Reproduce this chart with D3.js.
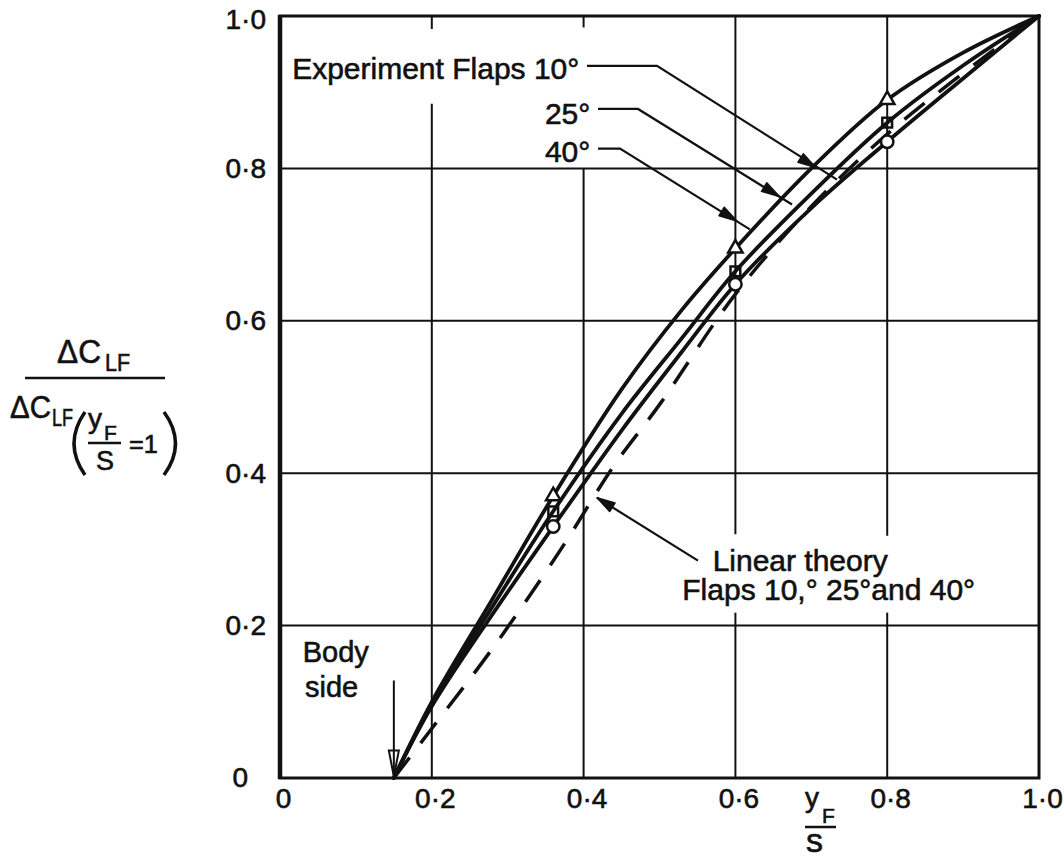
<!DOCTYPE html>
<html>
<head>
<meta charset="utf-8">
<script src="https://cdn.jsdelivr.net/npm/d3@7"></script>
<style>
  html, body { margin: 0; padding: 0; background: #fff; }
  svg { display: block; }
  text { font-family: "Liberation Sans", Arial, sans-serif; fill: #111; stroke: #111; stroke-width: 0.6px; }
</style>
</head>
<body>
<svg id="chart" width="1064" height="858"></svg>
<script>
// Spanwise flap extent yF/s against lift increment ratio
const xTicks = [0, 0.2, 0.4, 0.6, 0.8, 1.0];
const yTicks = [0, 0.2, 0.4, 0.6, 0.8, 1.0];

// Test stations (measured points)
const testSpan   = [0.36, 0.6, 0.8];
const flap10Test = [0.37, 0.695, 0.89];
const flap25Test = [0.35, 0.665, 0.86];
const flap40Test = [0.33, 0.648, 0.835];

// Faired experimental curves
const curveSpan   = [0.15, 0.2, 0.28, 0.36, 0.45, 0.53, 0.6, 0.7, 0.8, 0.9, 1.0];
const flap10Curve = [0, 0.100, 0.235, 0.370, 0.510, 0.615, 0.695, 0.800, 0.890, 0.952, 1.0];
const flap25Curve = [0, 0.097, 0.225, 0.350, 0.478, 0.578, 0.665, 0.767, 0.860, 0.935, 1.0];
const flap40Curve = [0, 0.094, 0.215, 0.330, 0.456, 0.560, 0.648, 0.748, 0.835, 0.918, 1.0];

// Linear theory (same for all three flap angles)
const theorySpan  = [0.15, 0.2, 0.28, 0.37, 0.44, 0.5, 0.6, 0.7, 0.8, 0.9, 1.0];
const theoryCurve = [0, 0.065, 0.170, 0.300, 0.410, 0.490, 0.635, 0.750, 0.845, 0.925, 1.0];

const bodySide = 0.15;

const svg = d3.select("#chart");
const x = d3.scaleLinear().domain([0, 1]).range([280, 1039]);
const y = d3.scaleLinear().domain([0, 1]).range([778, 16]);

const fmt = d => d === 0 ? "0" : d.toFixed(1).replace(".", "\u00B7");

// ---- grid (with breaks where lettering sits) ----
const gridBreaks = {
  0.2: [[0.885, 0.983]],
  0.4: [[0.80, 0.985]],
  0.6: [[0.217, 0.320]],
  0.8: [[0.217, 0.318]]
};
const grid = svg.append("g").attr("stroke", "#111").attr("stroke-width", 2).attr("fill", "none");
xTicks.filter(t => t > 0 && t < 1).forEach(t => {
  const breaks = (gridBreaks[t] || []).slice().sort((a, b) => a[0] - b[0]);
  let start = 0;
  const segs = [];
  breaks.forEach(([lo, hi]) => { segs.push([start, lo]); start = hi; });
  segs.push([start, 1]);
  segs.forEach(([a, b]) => {
    grid.append("line").attr("x1", x(t)).attr("x2", x(t)).attr("y1", y(a)).attr("y2", y(b));
  });
});
yTicks.filter(t => t > 0 && t < 1).forEach(t => {
  grid.append("line").attr("x1", x(0)).attr("x2", x(1)).attr("y1", y(t)).attr("y2", y(t));
});

// ---- frame ----
svg.append("rect")
  .attr("x", x(0)).attr("y", y(1))
  .attr("width", x(1) - x(0)).attr("height", y(0) - y(1))
  .attr("fill", "none").attr("stroke", "#111").attr("stroke-width", 3);
svg.append("line")
  .attr("x1", x(0)).attr("x2", x(0)).attr("y1", y(1) - 1).attr("y2", y(0) + 1)
  .attr("stroke", "#111").attr("stroke-width", 4.5);

// ---- axes ----
const xAxis = svg.append("g")
  .attr("transform", `translate(3,${y(0)})`)
  .call(d3.axisBottom(x).tickValues(xTicks).tickSize(0).tickPadding(10).tickFormat(fmt));
xAxis.select(".domain").remove();
xAxis.selectAll("text").attr("font-size", 28).attr("fill", "#111")
  .style("font-family", "'Liberation Sans', Arial, sans-serif");

const yAxis = svg.append("g")
  .attr("transform", `translate(${x(0)},0)`)
  .call(d3.axisLeft(y).tickValues(yTicks).tickSize(0).tickPadding(14).tickFormat(fmt));
yAxis.select(".domain").remove();
yAxis.selectAll("text").attr("font-size", 28).attr("fill", "#111")
  .style("font-family", "'Liberation Sans', Arial, sans-serif");
yAxis.selectAll(".tick").filter(d => d === 0).select("text").attr("x", -32);
yAxis.selectAll(".tick").filter(d => d === 1).select("text").attr("dy", "0.45em");

// ---- curves ----
const line = d3.line().x(d => x(d[0])).y(d => y(d[1])).curve(d3.curveCatmullRom.alpha(0.5));
const pair = (xs, ys) => xs.map((v, i) => [v, ys[i]]);

const curves = svg.append("g").attr("fill", "none").attr("stroke", "#111")
  .attr("stroke-linecap", "round").attr("stroke-linejoin", "round");
curves.append("path").attr("d", line(pair(theorySpan, theoryCurve)))
  .attr("stroke-width", 3.5).attr("stroke-dasharray", "26 18").attr("stroke-linecap", "butt");
[flap40Curve, flap25Curve, flap10Curve].forEach(c => {
  curves.append("path").attr("d", line(pair(curveSpan, c))).attr("stroke-width", 3.8);
});

// ---- test points ----
const pts = svg.append("g").attr("stroke", "#111").attr("stroke-width", 2.5);
const drawSymbols = (ys, type, size, fill) => {
  pts.selectAll(null).data(pair(testSpan, ys)).join("path")
    .attr("transform", d => `translate(${x(d[0])},${y(d[1])})`)
    .attr("d", d3.symbol().type(type).size(size))
    .attr("fill", fill);
};
drawSymbols(flap40Test, d3.symbolCircle, 120, "#fff");
drawSymbols(flap25Test, d3.symbolSquare, 95, "none");
drawSymbols(flap10Test, d3.symbolTriangle, 90, "#fff");

// ---- annotations ----
const ann = svg.append("g");
const lbl = (tx, ty, str, size, anchor) => ann.append("text")
  .attr("x", x(tx)).attr("y", y(ty)).attr("font-size", size)
  .attr("text-anchor", anchor || "start").text(str);

lbl(0.016, 0.9175, "Experiment Flaps 10\u00B0", 30);
lbl(0.349, 0.858, "25\u00B0", 30);
lbl(0.349, 0.809, "40\u00B0", 30);
lbl(0.570, 0.272, "Linear theory", 30);
lbl(0.530, 0.233, "Flaps 10,\u00B0 25\u00B0and 40\u00B0", 30);
lbl(0.030, 0.152, "Body", 29);
lbl(0.033, 0.106, "side", 29);

// leader lines: [points...] and the arrow tip position on each
const leaders = [
  { pts: [[0.4045, 0.9346], [0.4967, 0.9346], [0.7339, 0.7853]], tip: [0.7060, 0.8010] },
  { pts: [[0.4190, 0.8780], [0.4717, 0.8780], [0.6746, 0.7526]], tip: [0.6580, 0.7630] },
  { pts: [[0.4190, 0.8260], [0.4480, 0.8260], [0.6190, 0.7200]], tip: [0.6020, 0.7310] },
  { pts: [[0.5507, 0.2853], [0.4177, 0.3678]], tip: [0.4177, 0.3678] }
];
const straight = d3.line().x(d => x(d[0])).y(d => y(d[1]));
leaders.forEach(L => {
  ann.append("path").attr("d", straight(L.pts)).attr("fill", "none")
    .attr("stroke", "#111").attr("stroke-width", 2.2);
  // arrowhead aligned with the last leg
  const a = L.pts[L.pts.length - 2], b = L.pts[L.pts.length - 1];
  const ang = Math.atan2(y(b[1]) - y(a[1]), x(b[0]) - x(a[0])) * 180 / Math.PI;
  ann.append("path")
    .attr("d", "M0,0 L-18,-5 L-18,5 Z")
    .attr("transform", `translate(${x(L.tip[0])},${y(L.tip[1])}) rotate(${ang})`)
    .attr("fill", "#111").attr("stroke", "#111").attr("stroke-width", 1.5).attr("stroke-linejoin", "round");
});

// body side arrow
ann.append("line")
  .attr("x1", x(bodySide)).attr("x2", x(bodySide)).attr("y1", y(0.128)).attr("y2", y(0.002))
  .attr("stroke", "#111").attr("stroke-width", 2);
ann.append("path")
  .attr("d", `M${x(bodySide) - 5},${y(0.036)} L${x(bodySide)},${y(0.002)} L${x(bodySide) + 5},${y(0.036)} Z`)
  .attr("fill", "none").attr("stroke", "#111").attr("stroke-width", 2);

// ---- y-axis title: ΔC_LF / ΔC_LF(yF/S = 1) ----
const yt = svg.append("g");
const t = (px, py, str, size, len) => {
  const el = yt.append("text").attr("x", px).attr("y", py).attr("font-size", size).text(str);
  if (len) el.attr("textLength", len).attr("lengthAdjust", "spacingAndGlyphs");
  return el;
};
t(57, 363, "\u0394C", 33, 44);
t(105, 371, "LF", 23, 25);
yt.append("line").attr("x1", 25).attr("x2", 165).attr("y1", 378).attr("y2", 378)
  .attr("stroke", "#111").attr("stroke-width", 2.5);
t(10, 418, "\u0394C", 32, 41);
t(52, 426, "LF", 23, 21);
yt.append("path").attr("d", "M85,412 Q63,443.5 85,475").attr("fill", "none")
  .attr("stroke", "#111").attr("stroke-width", 3.5);
yt.append("path").attr("d", "M164,412 Q187,443.5 164,475").attr("fill", "none")
  .attr("stroke", "#111").attr("stroke-width", 3.5);
t(88, 428, "y", 28);
t(104, 440, "F", 21);
yt.append("line").attr("x1", 88).attr("x2", 121).attr("y1", 443).attr("y2", 443)
  .attr("stroke", "#111").attr("stroke-width", 2.5);
t(96, 470, "S", 27);
t(129, 453, "=1", 25, 29);

// ---- x-axis title: yF / s ----
const xt = svg.append("g");
xt.append("text").attr("x", 805).attr("y", 807).attr("font-size", 28).text("y");
xt.append("text").attr("x", 822).attr("y", 823).attr("font-size", 21).text("F");
xt.append("line").attr("x1", 805).attr("x2", 836).attr("y1", 827).attr("y2", 827)
  .attr("stroke", "#111").attr("stroke-width", 2.5);
xt.append("text").attr("x", 806).attr("y", 852).attr("font-size", 34).text("s");
</script>
</body>
</html>
